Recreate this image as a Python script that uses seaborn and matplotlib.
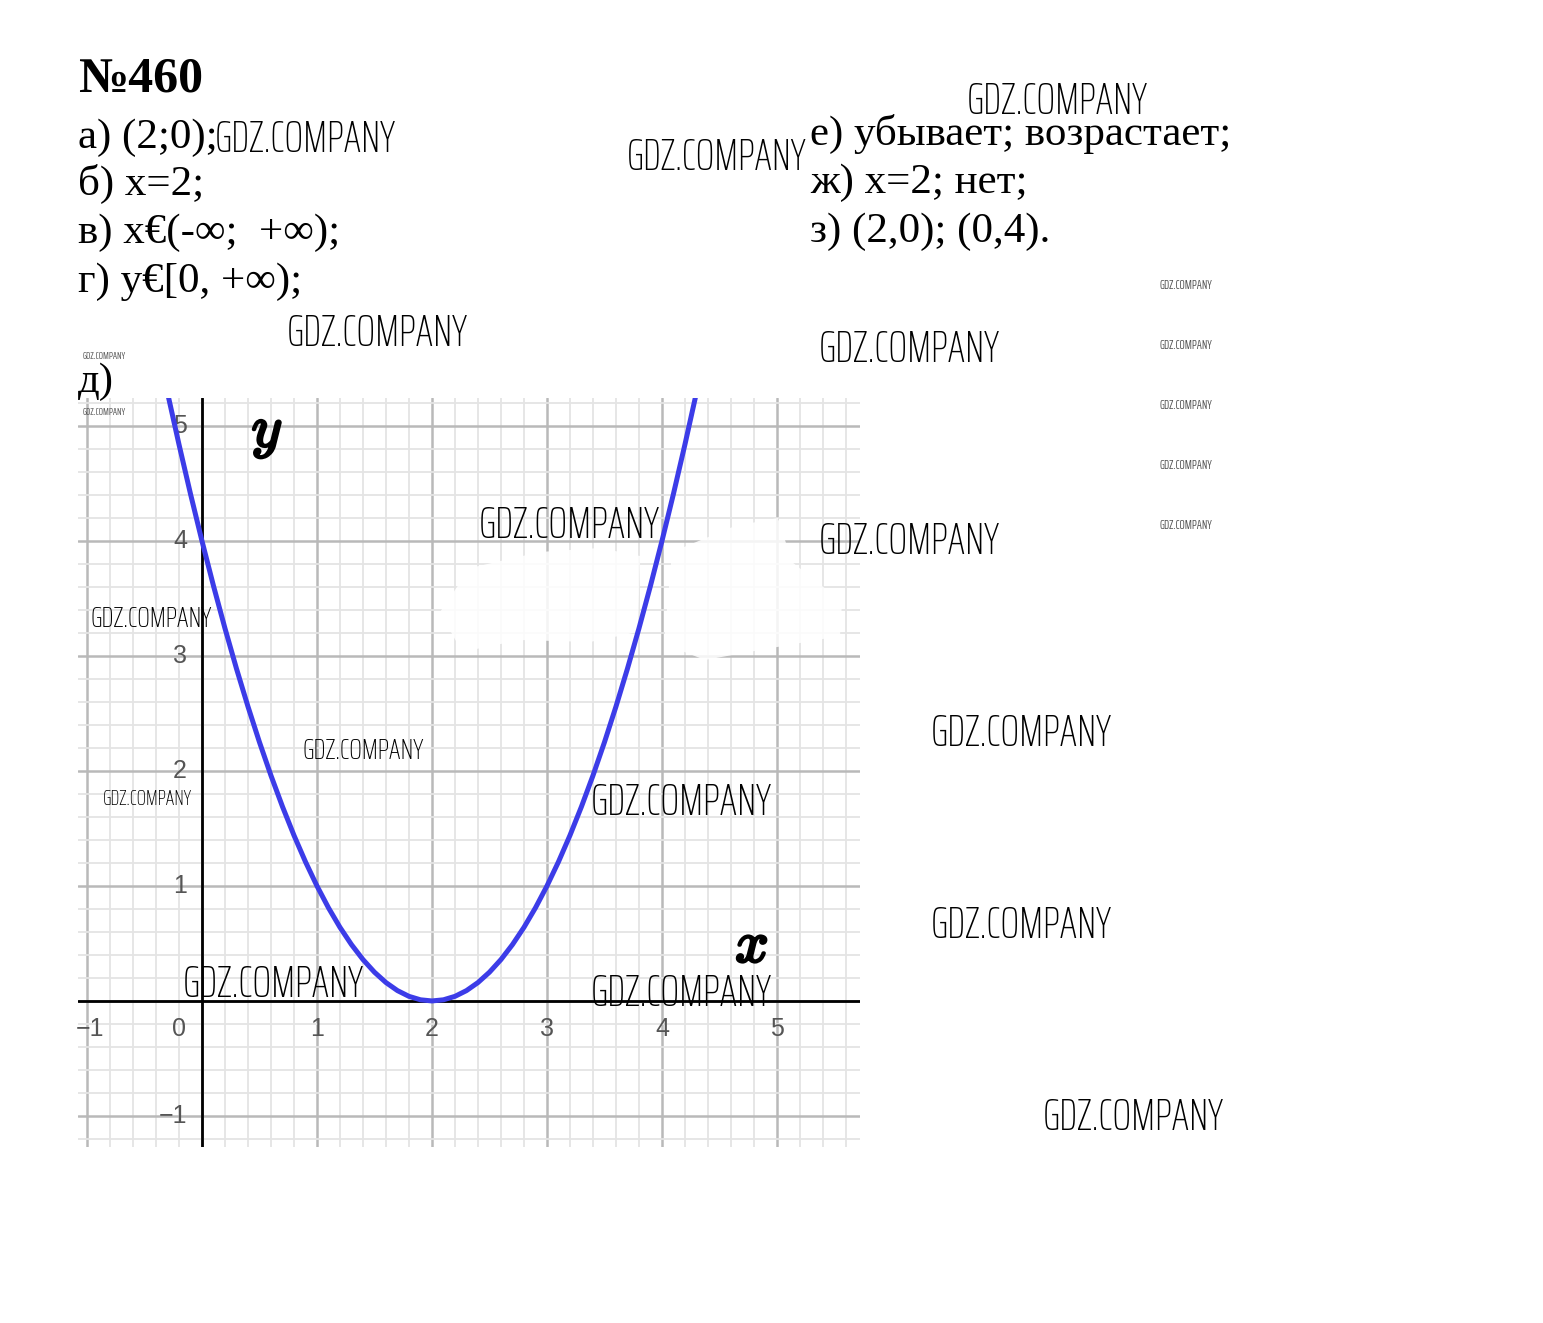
import matplotlib
matplotlib.use('Agg')
import matplotlib.pyplot as plt
import seaborn as sns
from matplotlib import patheffects as pe
from matplotlib.patches import Polygon
from matplotlib.ticker import MultipleLocator

# ---- data ----
x_values = [-0.3, -0.2, -0.1, 0.0, 0.1, 0.2, 0.3, 0.4, 0.5, 0.6, 0.7, 0.8, 0.9, 1.0,
            1.1, 1.2, 1.3, 1.4, 1.5, 1.6, 1.7, 1.8, 1.9, 2.0, 2.1, 2.2, 2.3, 2.4,
            2.5, 2.6, 2.7, 2.8, 2.9, 3.0, 3.1, 3.2, 3.3, 3.4, 3.5, 3.6, 3.7, 3.8,
            3.9, 4.0, 4.1, 4.2, 4.3]
y_values = [5.29, 4.84, 4.41, 4.00, 3.61, 3.24, 2.89, 2.56, 2.25, 1.96, 1.69, 1.44,
            1.21, 1.00, 0.81, 0.64, 0.49, 0.36, 0.25, 0.16, 0.09, 0.04, 0.01, 0.00,
            0.01, 0.04, 0.09, 0.16, 0.25, 0.36, 0.49, 0.64, 0.81, 1.00, 1.21, 1.44,
            1.69, 1.96, 2.25, 2.56, 2.89, 3.24, 3.61, 4.00, 4.41, 4.84, 5.29]
x_tick_values = [-1, 0, 1, 2, 3, 4, 5]
x_tick_labels = ['−1', '0', '1', '2', '3', '4', '5']
y_tick_values = [-1, 1, 2, 3, 4, 5]
y_tick_labels = ['−1', '1', '2', '3', '4', '5']
title_text = '№460'
answers_left = ['а) (2;0);', 'б) x=2;', 'в) x€(-∞;  +∞);', 'г) y€[0, +∞);', 'д)']
answers_right = ['е) убывает; возрастает;', 'ж) x=2; нет;', 'з) (2,0); (0,4).']
watermark = 'GDZ.COMPANY'

W, H = 1543, 1323
sns.set_theme(style='white')
plt.rcParams['font.family'] = ['Liberation Serif', 'DejaVu Serif']

fig = plt.figure(figsize=(W / 100, H / 100), dpi=100)
ax = fig.add_axes([78 / W, 176 / H, 782 / W, 749 / H])


def fx(px):
    return px / W


def fy(py):
    return 1 - py / H


ax.set_xlim(-1.078, 5.722)
ax.set_ylim(-1.270, 5.243)
ax.xaxis.set_major_locator(MultipleLocator(1))
ax.yaxis.set_major_locator(MultipleLocator(1))
ax.xaxis.set_minor_locator(MultipleLocator(0.2))
ax.yaxis.set_minor_locator(MultipleLocator(0.2))
ax.grid(which='minor', color='#e4e4e4', lw=1.3, zorder=0)
ax.grid(which='major', color='#b9b9b9', lw=1.8, zorder=0)
ax.tick_params(which='both', length=0, labelbottom=False, labelleft=False)
for s in ax.spines.values():
    s.set_visible(False)
ax.set_axisbelow(True)

# erased (white) patches inside the grid, drawn above the grid but below the curve
for poly in ([(440, 612), (470, 568), (540, 552), (600, 548), (640, 556), (638, 632),
              (590, 642), (520, 640), (462, 652)],
             [(672, 552), (735, 526), (778, 518), (792, 562), (842, 602), (840, 636),
              (760, 650), (705, 660), (664, 644)]):
    ax.add_patch(Polygon([(fx(a), fy(b)) for a, b in poly], closed=True,
                         transform=fig.transFigure, facecolor='white',
                         edgecolor='none', alpha=0.85, zorder=1, clip_on=False))

ax.axhline(0, color='black', lw=2.0, zorder=2)
ax.axvline(0, color='black', lw=2.0, zorder=2)

sns.lineplot(x=x_values, y=y_values, ax=ax, color='#3c3ce8', lw=3.6, zorder=4)

tick_font = ['Liberation Sans', 'DejaVu Sans']
for v, lab in zip(x_tick_values, x_tick_labels):
    xx = v
    if v == 0:
        xx = -0.2
    if v == -1:
        xx = -0.975
    ax.text(xx, -0.245, lab, ha='center', va='center', fontsize=18,
            color='#555555', family=tick_font, zorder=3)
for v, lab in zip(y_tick_values, y_tick_labels):
    ax.text(-0.13, v, lab, ha='right', va='center', fontsize=18,
            color='#555555', family=tick_font, zorder=3)

bold_fx = [pe.withStroke(linewidth=2.0, foreground='black')]
ax.text(0.565, 4.93, '$y$', ha='center', va='center', fontsize=42,
        math_fontfamily='cm', color='black', path_effects=bold_fx, zorder=5)
ax.text(4.78, 0.46, '$x$', ha='center', va='center', fontsize=42,
        math_fontfamily='cm', color='black', path_effects=bold_fx, zorder=5)

fig.text(fx(78), fy(92), title_text, fontsize=36, fontweight='bold',
         ha='left', va='baseline', color='black')
left_baselines = [148, 195, 243, 292, 392]
for t, b in zip(answers_left, left_baselines):
    fig.text(fx(78), fy(b), t, fontsize=31, ha='left', va='baseline', color='black')
right_baselines = [145, 193, 242]
for t, b in zip(answers_right, right_baselines):
    fig.text(fx(810), fy(b), t, fontsize=31, ha='left', va='baseline', color='black')

# watermark boxes: left, right, baseline (px), colour, weight
wm_boxes = [(215, 395, 152, 'black', 250), (627, 806, 170, 'black', 250),
            (967, 1147, 114, 'black', 250), (287, 467, 346, 'black', 250),
            (819, 999, 362, 'black', 250), (479, 659, 538, 'black', 250),
            (819, 999, 554, 'black', 250), (91, 212, 627, 'black', 250),
            (303, 424, 759, 'black', 250), (931, 1111, 746, 'black', 250),
            (103, 192, 805, 'black', 250), (591, 771, 815, 'black', 250),
            (931, 1111, 938, 'black', 250), (183, 363, 997, 'black', 250),
            (591, 771, 1006, 'black', 250), (1043, 1223, 1130, 'black', 250),
            (1159, 1212, 289, '#555555', 400), (1159, 1212, 349, '#555555', 400),
            (1159, 1212, 409, '#555555', 400), (1159, 1212, 469, '#555555', 400),
            (1159, 1212, 529, '#555555', 400), (83, 126, 359, '#555555', 400),
            (83, 126, 415, '#555555', 400)]
renderer = fig.canvas.get_renderer()
for l, r, b, col, wgt in wm_boxes:
    t = fig.text(fx(l), fy(b), watermark, fontsize=20, ha='left', va='baseline',
                 color=col, family=['Saira ExtraCondensed', 'DejaVu Sans'],
                 fontweight=wgt, zorder=6)
    bb = t.get_window_extent(renderer)
    t.set_fontsize(20 * (r - l) / bb.width)

fig.savefig('out.png', dpi=100, facecolor='white')
